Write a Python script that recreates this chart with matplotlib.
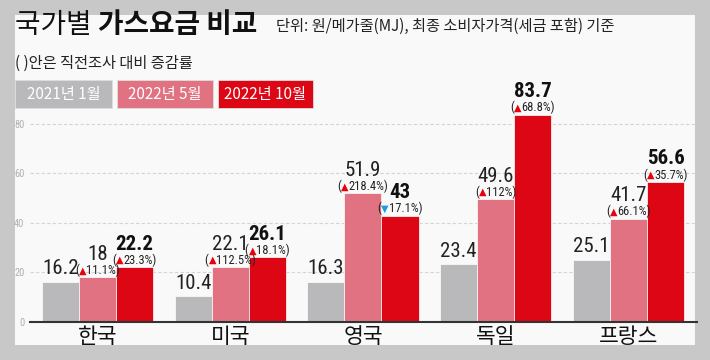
import matplotlib
matplotlib.use('Agg')
import matplotlib.pyplot as plt
import matplotlib.transforms as mtransforms
from matplotlib.patches import Rectangle
import numpy as np

plt.rcParams['font.family'] = ['Noto Sans CJK KR', 'DejaVu Sans']

countries = ['한국', '미국', '영국', '독일', '프랑스']
periods = ['2021년 1월', '2022년 5월', '2022년 10월']
jan21 = [16.2, 10.4, 16.3, 23.4, 25.1]
may22 = [18, 22.1, 51.9, 49.6, 41.7]
oct22 = [22.2, 26.1, 43, 83.7, 56.6]
may22_chg = [11.1, 112.5, 218.4, 112, 66.1]
oct22_chg = [23.3, 18.1, -17.1, 68.8, 35.7]

colors = ['#b9b9bb', '#e07282', '#dc0614']
up_color = '#e8000d'
down_color = '#1e9be0'
num_font = ['Roboto Condensed', 'DejaVu Sans']

W, H = 710, 360
fig = plt.figure(figsize=(W / 100, H / 100), dpi=100, facecolor='#c8c8c8')
renderer = fig.canvas.get_renderer()


def fx(px):
    return px / W


def fy(py):
    # py measured from top
    return 1 - py / H


def row(x, y, pieces, transform, dx=0, dy=0, align='center', va='center'):
    """place coloured text pieces side by side"""
    texts, widths = [], []
    for s, color, size, weight, family in pieces:
        t = fig.text(0, 0, s, color=color, fontsize=size, fontweight=weight,
                     family=family, ha='left', va=va)
        widths.append(t.get_window_extent(renderer).width)
        texts.append(t)
    total = sum(widths)
    x0 = -total / 2 if align == 'center' else 0
    for t, w in zip(texts, widths):
        t.set_transform(transform + mtransforms.Affine2D().translate(x0 + dx, dy))
        t.set_position((x, y))
        x0 += w
    return texts


# inner panel
fig.add_artist(Rectangle((fx(15), fy(345)), fx(680), 330 / H, transform=fig.transFigure,
                         facecolor='#f9f9f9', edgecolor='none', zorder=0))

# title
kr = plt.rcParams['font.family']
row(fx(15), fy(33), [('국가별 ', '#111111', 20, 'normal', kr),
                     ('가스요금 비교', '#111111', 20, 'bold', kr)],
    fig.transFigure, align='left', va='baseline')
fig.text(fx(276), fy(26), '단위: 원/메가줄(MJ), 최종 소비자가격(세금 포함) 기준',
         fontsize=11, color='#222222', va='center', ha='left')
fig.text(fx(15), fy(63), '( )안은 직전조사 대비 증감률', fontsize=11,
         color='#222222', va='center', ha='left')

# legend boxes
box_x = [15, 117, 218]
box_w = [97, 96, 95]
for bx, bw, c, lab in zip(box_x, box_w, colors, periods):
    fig.add_artist(Rectangle((fx(bx), fy(108)), fx(bw), 28 / H, transform=fig.transFigure,
                             facecolor=c, edgecolor='#dddddd', lw=0.6))
    fig.text(fx(bx + bw / 2), fy(94), lab, color='white', fontsize=11,
             ha='center', va='center')

ax = fig.add_axes([fx(30), 38 / H, fx(667), 213 / H])
ax.patch.set_visible(False)

x = np.arange(len(countries))
bw = 0.279
series = [jan21, may22, oct22]
for i, (vals, c) in enumerate(zip(series, colors)):
    ax.bar(x + (i - 1) * bw, vals, width=bw, color=c, zorder=3, edgecolor='white', lw=0.5)

ax.set_xlim(-0.508, 4.516)
ax.set_ylim(0, 86)
ax.set_yticks([0, 20, 40, 60, 80])
ax.tick_params(axis='y', length=0, labelsize=7.5, labelcolor='#b0b0b0', pad=4)
for lab in ax.get_yticklabels():
    lab.set_family(num_font)
for g in [20, 40, 60, 80]:
    ax.axhline(g, color='#d4d4d4', lw=0.8, ls=(0, (3, 2)), zorder=1, xmax=0.997)
ax.set_xticks(x)
ax.set_xticklabels(countries, fontsize=15.5)
ax.tick_params(axis='x', length=0, pad=3, labelcolor='#111111')
for s in ['top', 'right', 'left']:
    ax.spines[s].set_visible(False)
ax.spines['bottom'].set_color('#333333')
ax.spines['bottom'].set_linewidth(1.5)
ax.spines['bottom'].set_zorder(4)

# value labels
for xi, v in zip(x, jan21):
    ax.text(xi - bw, v, f'{v:g}', fontsize=15, family=num_font, color='#222222',
            ha='center', va='center',
            transform=ax.transData + mtransforms.Affine2D().translate(0, 13))


def pct_label(xi, v, chg):
    mark = '▲' if chg > 0 else '▼'
    mc = up_color if chg > 0 else down_color
    row(xi, v, [('(', '#222222', 9, 'normal', num_font),
                (mark, mc, 7, 'normal', ['DejaVu Sans']),
                (f'{abs(chg):g}%)', '#222222', 9, 'normal', num_font)],
        ax.transData, dy=7)


for xi, v, chg in zip(x, may22, may22_chg):
    pct_label(xi, v, chg)
    ax.text(xi, v, f'{v:g}', fontsize=15, family=num_font, color='#222222',
            ha='center', va='center',
            transform=ax.transData + mtransforms.Affine2D().translate(0, 23))

for xi, v, chg in zip(x, oct22, oct22_chg):
    pct_label(xi + bw, v, chg)
    ax.text(xi + bw, v, f'{v:g}', fontsize=15, fontweight='bold', family=num_font,
            color='#111111', ha='center', va='center',
            transform=ax.transData + mtransforms.Affine2D().translate(0, 23))

fig.savefig('out.png', dpi=100, facecolor=fig.get_facecolor())
